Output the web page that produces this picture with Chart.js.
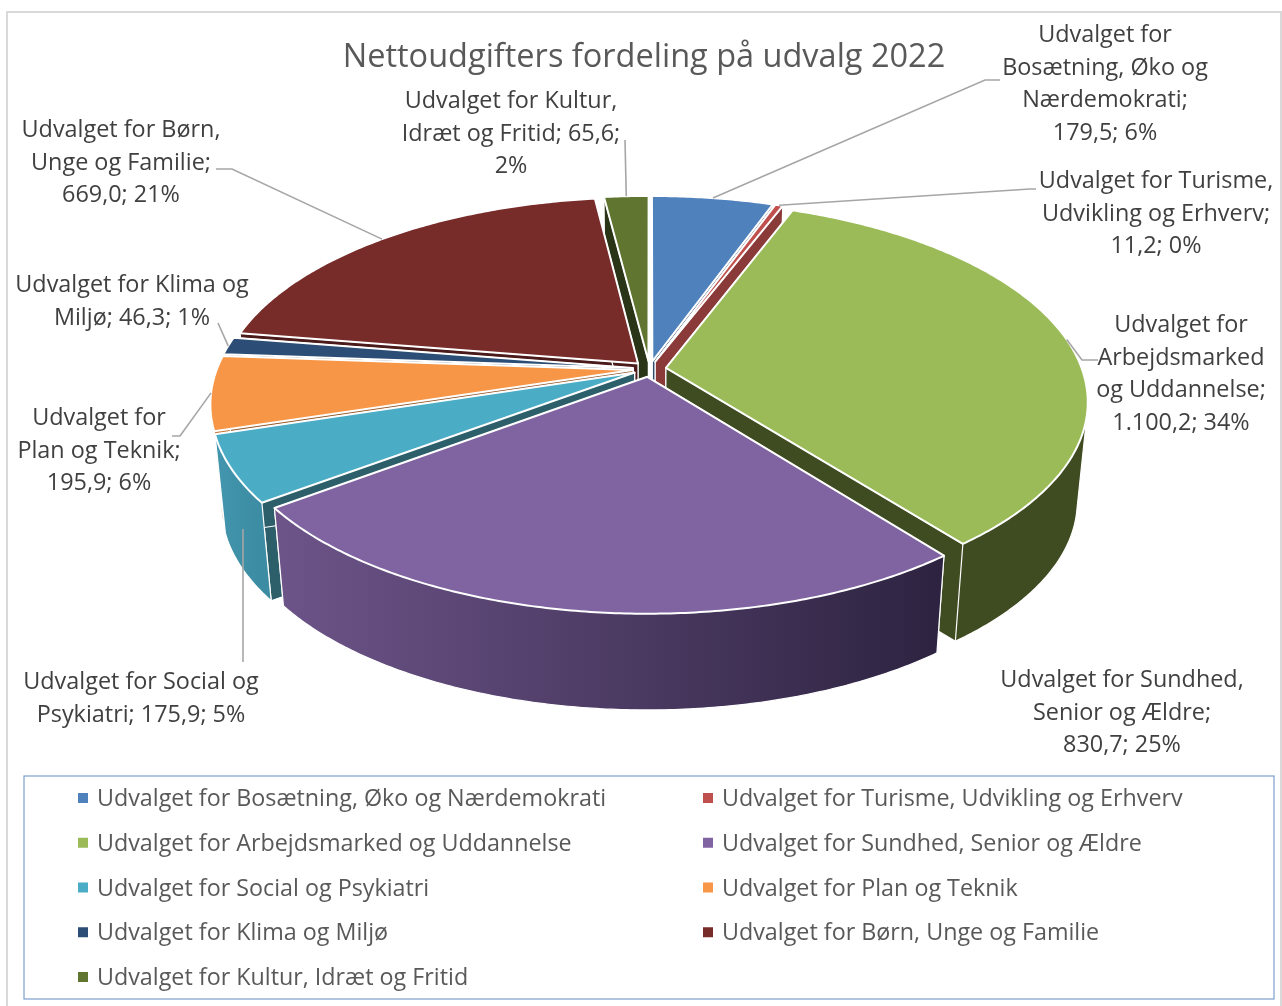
<!DOCTYPE html>
<html lang="da">
<head>
<meta charset="utf-8">
<title>Nettoudgifters fordeling på udvalg 2022</title>
<script src="https://cdn.jsdelivr.net/npm/chart.js@4/dist/chart.umd.min.js"></script>
<style>
    html, body { margin: 0; padding: 0; background: #ffffff; }
    canvas { display: block; }
</style>
</head>
<body>
<canvas id="grafico" width="1282" height="1006"></canvas>
<script>
const titulo = "Nettoudgifters fordeling på udvalg 2022";

const categorias = [
    "Udvalget for Bosætning, Øko og Nærdemokrati",
    "Udvalget for Turisme, Udvikling og Erhverv",
    "Udvalget for Arbejdsmarked og Uddannelse",
    "Udvalget for Sundhed, Senior og Ældre",
    "Udvalget for Social og Psykiatri",
    "Udvalget for Plan og Teknik",
    "Udvalget for Klima og Miljø",
    "Udvalget for Børn, Unge og Familie",
    "Udvalget for Kultur, Idræt og Fritid"
];
const valores = [179.5, 11.2, 1100.2, 830.7, 175.9, 195.9, 46.3, 669.0, 65.6];

// data labels as they wrap in the picture
const etiquetas = [
    ["Udvalget for", "Bosætning, Øko og", "Nærdemokrati;", "179,5; 6%"],
    ["Udvalget for Turisme,", "Udvikling og Erhverv;", "11,2; 0%"],
    ["Udvalget for", "Arbejdsmarked", "og Uddannelse;", "1.100,2; 34%"],
    ["Udvalget for Sundhed,", "Senior og Ældre;", "830,7; 25%"],
    ["Udvalget for Social og", "Psykiatri; 175,9; 5%"],
    ["Udvalget for", "Plan og Teknik;", "195,9; 6%"],
    ["Udvalget for Klima og", "Miljø; 46,3; 1%"],
    ["Udvalget for Børn,", "Unge og Familie;", "669,0; 21%"],
    ["Udvalget for Kultur,", "Idræt og Fritid; 65,6;", "2%"]
];

const coloresTapa = ["#4f81bd", "#c0504d", "#9bbb59", "#8064a2", "#4bacc6", "#f79646", "#2c4d75", "#772c2a", "#5f7530"];
const coloresCara = ["#2e4b6e", "#8a3a38", "#3f4b21", "#3a2e4b", "#2d5f6b", "#94592a", "#1a2e46", "#4a1b1a", "#2a3416"];
const muroIzq = ["#3f6797", "#9a403e", "#3f4b21", "#6d5489", "#4296ad", "#c67838", "#233e5e", "#5f2322", "#4c5e26"];
const muroDer = ["#3f6797", "#9a403e", "#3f4b21", "#2d2340", "#3c8ca3", "#c67838", "#233e5e", "#5f2322", "#4c5e26"];
// slices whose outer wall can be seen from the front
const murosVisibles = [2, 3, 4];

// label placement: centre x, y of first line, leader polyline from the label towards the slice
const etiquetaX = [1105, 1156, 1181, 1122, 141, 99, 132, 121, 511];
const etiquetaY = [35.5, 181.5, 325.5, 680.5, 682.5, 418.5, 285.5, 130.5, 101.5];
const guias = [
    [[1000, 80], [985, 80]],
    [[1036, 189], [1030, 189]],
    [[1098, 360], [1082, 360]],
    null,
    [[243, 662]],
    [[172, 436], [180, 436]],
    [[218, 323]],
    [[216, 169], [232, 169]],
    [[625, 140]]
];

// perspective of the tilted pie
const centroX = 649.5, centroY = 369, radioX = 416, radioY = 195, fuga = 0.165, separacion = 0.04;
const pisoY = 469, pisoRadioY = 192, pisoEscala = 0.976;
const fuente = '"Open Sans", sans-serif';

function proyectar(x, y, abajo) {
    const w = 1 - fuga * y;
    if (abajo) {
        return [centroX + pisoEscala * radioX * x / w, pisoY + pisoRadioY * y / w];
    }
    return [centroX + radioX * x / w, centroY + radioY * y / w];
}

function bordeArco(inicio, fin, abajo, dx, dy) {
    const puntos = [];
    const pasos = Math.max(2, Math.ceil((fin - inicio) / 0.01));
    for (let i = 0; i <= pasos; i++) {
        const a = inicio + (fin - inicio) * i / pasos;
        puntos.push(proyectar(dx + Math.cos(a), dy + Math.sin(a), abajo));
    }
    return puntos;
}

// outline of the outer wall: the silhouette runs straight from the top rim to the floor rim
function envolvente(puntos) {
    const p = puntos.slice().sort((a, b) => a[0] - b[0] || a[1] - b[1]);
    const giro = (o, a, b) => (a[0] - o[0]) * (b[1] - o[1]) - (a[1] - o[1]) * (b[0] - o[0]);
    const medio = lista => {
        const h = [];
        lista.forEach(q => {
            while (h.length > 1 && giro(h[h.length - 2], h[h.length - 1], q) <= 0) h.pop();
            h.push(q);
        });
        h.pop();
        return h;
    };
    return medio(p).concat(medio(p.slice().reverse()));
}

function pintar(ctx, puntos, relleno, grosor) {
    ctx.beginPath();
    puntos.forEach((p, i) => i ? ctx.lineTo(p[0], p[1]) : ctx.moveTo(p[0], p[1]));
    ctx.closePath();
    ctx.fillStyle = relleno;
    ctx.fill();
    ctx.lineWidth = grosor;
    ctx.strokeStyle = "#ffffff";
    ctx.lineJoin = "round";
    ctx.stroke();
}

function pintarPorcion(ctx, arco, i) {
    const medio = (arco.startAngle + arco.endAngle) / 2;
    const dx = Math.cos(medio) * separacion;
    const dy = Math.sin(medio) * separacion;
    const tapa = bordeArco(arco.startAngle, arco.endAngle, false, dx, dy);
    const piso = bordeArco(arco.startAngle, arco.endAngle, true, dx, dy);
    const eje = proyectar(dx, dy, false);
    const ejePiso = proyectar(dx, dy, true);

    const xs = tapa.map(p => p[0]);
    const degradado = ctx.createLinearGradient(Math.min(...xs), 0, Math.max(...xs), 0);
    degradado.addColorStop(0, muroIzq[i]);
    degradado.addColorStop(1, muroDer[i]);
    const contorno = murosVisibles.includes(i) ? envolvente(tapa.concat(piso)) : tapa.concat(piso.slice().reverse());
    const muro = () => pintar(ctx, contorno, degradado, 1.2);

    // a back slice has its wall behind the cut faces, a front slice in front of them
    if (Math.sin(medio) < 0) muro();
    pintar(ctx, [eje, tapa[0], piso[0], ejePiso], coloresCara[i], 1.2);
    pintar(ctx, [eje, tapa[tapa.length - 1], piso[piso.length - 1], ejePiso], coloresCara[i], 1.2);
    if (Math.sin(medio) >= 0) muro();

    pintar(ctx, [eje].concat(tapa), coloresTapa[i], 2);
}

const pastel3d = {
    id: "pastel3d",
    beforeDraw(chart) {
        const ctx = chart.ctx;
        ctx.save();
        ctx.fillStyle = "#ffffff";
        ctx.fillRect(0, 0, chart.width, chart.height);
        ctx.strokeStyle = "#d9d9d9";
        ctx.lineWidth = 2;
        ctx.strokeRect(7, 12, 1274, 1010);
        ctx.restore();
    },
    beforeDatasetDraw(chart, args) {
        const ctx = chart.ctx;
        const arcos = args.meta.data;
        const orden = arcos.map((a, i) => i).sort((p, q) => {
            const mp = (arcos[p].startAngle + arcos[p].endAngle) / 2;
            const mq = (arcos[q].startAngle + arcos[q].endAngle) / 2;
            return Math.sin(mp) - Math.sin(mq);
        });
        ctx.save();
        orden.forEach(i => pintarPorcion(ctx, arcos[i], i));
        ctx.restore();
        return false;
    },
    afterDatasetsDraw(chart) {
        const ctx = chart.ctx;
        const arcos = chart.getDatasetMeta(0).data;
        ctx.save();

        // leader lines
        ctx.strokeStyle = "#a6a6a6";
        ctx.lineWidth = 1.6;
        guias.forEach((guia, i) => {
            if (!guia) return;
            const medio = (arcos[i].startAngle + arcos[i].endAngle) / 2;
            const k = 1 + separacion;
            const punta = proyectar(Math.cos(medio) * k, Math.sin(medio) * k, false);
            if (i === 4) punta[1] += 60;
            ctx.beginPath();
            ctx.moveTo(guia[0][0], guia[0][1]);
            guia.slice(1).forEach(p => ctx.lineTo(p[0], p[1]));
            ctx.lineTo(punta[0] + (i === 4 ? 243 - punta[0] : 0), punta[1]);
            ctx.stroke();
        });

        // data labels
        ctx.font = "23.4px " + fuente;
        ctx.fillStyle = "#404040";
        ctx.textAlign = "center";
        ctx.textBaseline = "middle";
        etiquetas.forEach((lineas, i) => {
            lineas.forEach((linea, j) => {
                ctx.fillText(linea, etiquetaX[i], etiquetaY[i] + j * 32.6);
            });
        });

        // legend, two columns inside a thin frame
        ctx.strokeStyle = "#7f9fcc";
        ctx.lineWidth = 1.2;
        ctx.strokeRect(24, 776, 1250, 223);
        ctx.font = "23.3px " + fuente;
        ctx.textAlign = "left";
        categorias.forEach((nombre, i) => {
            const col = i % 2;
            const fila = Math.floor(i / 2);
            const x = col ? 703 : 78;
            const y = 798 + fila * 44.75;
            ctx.fillStyle = coloresTapa[i];
            ctx.fillRect(x, y - 5, 10, 10);
            ctx.fillStyle = "#595959";
            ctx.fillText(nombre, x + 19, y + 1.5);
        });
        ctx.restore();
    }
};

new Chart(document.getElementById("grafico").getContext("2d"), {
    type: "pie",
    data: {
        labels: categorias,
        datasets: [{ data: valores, backgroundColor: coloresTapa }]
    },
    options: {
        responsive: false,
        animation: false,
        layout: { padding: { left: 6, top: 38, bottom: 260 } },
        plugins: {
            legend: { display: false },
            tooltip: { enabled: false },
            title: {
                display: true,
                text: titulo,
                color: "#595959",
                font: { family: '"Open Sans", sans-serif', size: 32.5, weight: "normal" },
                padding: 0
            }
        }
    },
    plugins: [pastel3d]
});
</script>
</body>
</html>
